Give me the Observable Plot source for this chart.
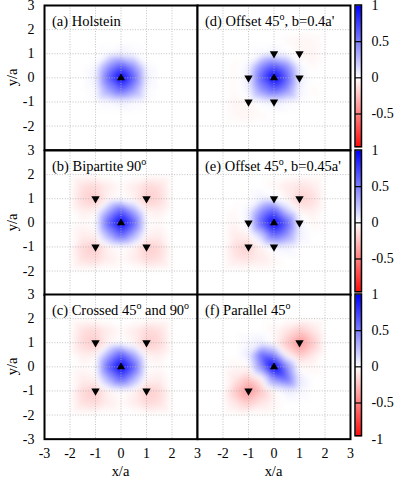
<!DOCTYPE html>
<html><head><meta charset="utf-8">
<script src="https://cdn.jsdelivr.net/npm/d3@7"></script>
<script src="https://cdn.jsdelivr.net/npm/@observablehq/plot@0.6"></script>
<style>
body{margin:0;background:#fff}
#chart{position:relative;width:399px;height:478px;overflow:hidden;background:#fff}
#chart svg{position:absolute;overflow:visible;background:transparent !important;font-family:'Liberation Serif','Times New Roman',serif !important;font-size:14px !important}
#chart svg text{font-family:'Liberation Serif','Times New Roman',serif !important}
</style></head><body><div id="chart"></div>
<script>
// sample grid (x across, y rows top->bottom)
const gridX = [-2, -1.5, -1, -0.5, 0, 0.5, 1, 1.5, 2];
const gridY = [2, 1.5, 1, 0.5, 0, -0.5, -1, -1.5, -2];

const valuesA = [
  [0,0,0,0,0,0,0,0,0],
  [0,0,0,0,0,0,0,0,0],
  [0,0,0,.02,.05,.02,0,0,0],
  [0,0,.02,.38,.6,.38,.02,0,0],
  [0,0,.05,.6,1,.6,.05,0,0],
  [0,0,.02,.38,.6,.38,.02,0,0],
  [0,0,0,.02,.05,.02,0,0,0],
  [0,0,0,0,0,0,0,0,0],
  [0,0,0,0,0,0,0,0,0]
];
const valuesB = [
  [0,0,0,0,0,0,0,0,0],
  [0,-.12,-.15,-.07,-.02,-.07,-.15,-.12,0],
  [0,-.15,-.2,-.05,0,-.05,-.2,-.15,0],
  [0,-.07,-.05,.32,.62,.32,-.05,-.07,0],
  [0,-.02,0,.62,1,.62,0,-.02,0],
  [0,-.07,-.05,.32,.62,.32,-.05,-.07,0],
  [0,-.15,-.2,-.05,0,-.05,-.2,-.15,0],
  [0,-.12,-.15,-.07,-.02,-.07,-.15,-.12,0],
  [0,0,0,0,0,0,0,0,0]
];
const valuesC = [
  [0,0,0,0,0,0,0,0,0],
  [0,-.12,-.15,-.07,-.02,-.07,-.15,-.12,0],
  [0,-.15,-.2,-.05,0,-.05,-.2,-.15,0],
  [0,-.07,-.05,.32,.62,.32,-.05,-.07,0],
  [0,-.02,0,.62,1,.62,0,-.02,0],
  [0,-.07,-.05,.32,.62,.32,-.05,-.07,0],
  [0,-.15,-.2,-.05,0,-.05,-.2,-.15,0],
  [0,-.12,-.15,-.07,-.02,-.07,-.15,-.12,0],
  [0,0,0,0,0,0,0,0,0]
];
const valuesD = [
  [0,0,0,0,0,0,0,0,0],
  [0,0,0,0,0,-.02,-.04,-.03,0],
  [0,0,0,.02,.05,.02,-.04,-.04,0],
  [0,-.02,.04,.42,.62,.42,.04,-.02,0],
  [0,-.02,.06,.62,1,.62,.06,0,0],
  [0,-.02,.04,.42,.62,.42,.04,-.02,0],
  [0,-.04,-.04,.02,.05,.02,0,0,0],
  [0,-.03,-.04,-.02,0,0,0,0,0],
  [0,0,0,0,0,0,0,0,0]
];
const valuesE = [
  [0,0,0,0,0,0,0,0,0],
  [0,0,0,0,-.03,-.08,-.11,-.08,0],
  [0,0,0,.05,.04,-.05,-.18,-.13,0],
  [0,-.02,.05,.42,.62,.2,-.05,-.07,0],
  [0,-.04,.04,.62,1,.62,.04,-.03,0],
  [0,-.08,-.05,.2,.62,.42,.05,0,0],
  [0,-.13,-.18,-.05,.04,.05,0,0,0],
  [0,-.09,-.11,-.08,-.03,0,0,0,0],
  [0,0,0,0,0,0,0,0,0]
];
const valuesF = [
  [0,0,0,0,0,0,0,0,0],
  [0,0,0,0,-.03,-.1,-.2,-.1,0],
  [0,0,.03,.06,-.03,-.22,-.42,-.22,0],
  [0,0,.08,.58,.45,-.05,-.22,-.1,0],
  [0,-.03,-.03,.45,1,.45,-.03,-.03,0],
  [0,-.1,-.22,-.05,.45,.58,.08,0,0],
  [0,-.22,-.42,-.22,-.03,.06,.03,0,0],
  [0,-.1,-.2,-.1,-.03,0,0,0,0],
  [0,0,0,0,0,0,0,0,0]
];

const titles = ["(a) Holstein", "(b) Bipartite 90^o", "(c) Crossed 45^o and 90^o",
                "(d) Offset 45^o, b=0.4a'", "(e) Offset 45^o, b=0.45a'", "(f) Parallel 45^o"];
const upSites = [[0, 0]];
const downA = [];
const downB = [[-1, 1], [1, 1], [-1, -1], [1, -1]];
const downC = [[-1, 1], [1, 1], [-1, -1], [1, -1]];
const downD = [[0, 1], [1, 1], [-1, 0], [1, 0], [-1, -1], [0, -1]];
const downE = [[0, 1], [1, 1], [-1, 0], [1, 0], [-1, -1], [0, -1]];
const downF = [[1, 1], [-1, -1]];

const gridTicks = [-2, -1, 0, 1, 2];
const xTicksLeft = [-3, -2, -1, 0, 1, 2, 3];
const xTicksRight = [-2, -1, 0, 1, 2, 3];
const yTicks = [3, 2, 1, 0, -1, -2];
const yTicksLast = [3, 2, 1, 0, -1, -2, -3];
const cbTicks = [1, 0.5, 0, -0.5];
const cbTicksLast = [1, 0.5, 0, -0.5, -1];
const cbRules = [0.5, 0, -0.5];

const panels = [
  {values: valuesA, down: downA}, {values: valuesB, down: downB}, {values: valuesC, down: downC},
  {values: valuesD, down: downD}, {values: valuesE, down: downE}, {values: valuesF, down: downF}
];

const FONT = "'Liberation Serif','Times New Roman',serif";
const colX = [44, 197];
const PW = 153, PH = 144.67;
const rowY = [5, 149.67, 294.33];
const ML = 40, MR = 4, MT = 4, MB = 40;
const colorScale = {type: "linear", domain: [-1, 0, 1], range: ["#ff0000", "#ffffff", "#0000ff"], interpolate: "rgb"};
const style = {background: "transparent", overflow: "visible", fontFamily: FONT, fontSize: "14px", color: "black"};
const chart = document.getElementById("chart");

function addTitle(svg, text, x, y) {
  const t = d3.select(svg).append("text").attr("x", x).attr("y", y).attr("text-anchor", "start")
    .attr("font-family", FONT).attr("font-size", 14.5).attr("fill", "black");
  const parts = text.split("^o");
  parts.forEach((p, k) => {
    if (k > 0) {
      t.append("tspan").attr("dy", -5.5).attr("font-size", 10).text("o");
      t.append("tspan").attr("dy", 5.5).text(p);
    } else t.append("tspan").text(p);
  });
}

panels.forEach((p, i) => {
  const col = Math.floor(i / 3), row = i % 3;
  const pts = [];
  gridY.forEach((y, r) => gridX.forEach((x, c) => pts.push({x, y, v: p.values[r][c]})));
  const marks = [
    Plot.raster(pts, {x: "x", y: "y", fill: "v", interpolate: "barycentric", x1: -3, x2: 3, y1: -3, y2: 3, blur: 2}),
    Plot.ruleX(gridTicks, {stroke: "#b4b4b4", strokeWidth: 0.8, strokeDasharray: "1,1.6"}),
    Plot.ruleY(gridTicks, {stroke: "#b4b4b4", strokeWidth: 0.8, strokeDasharray: "1,1.6"}),
    Plot.dot(upSites, {x: d => d[0], y: d => d[1], symbol: "triangle", r: 3, fill: "black", stroke: null}),
    Plot.dot(p.down, {x: d => d[0], y: d => d[1], symbol: "triangle", r: 3.1, fill: "black", stroke: null, rotate: 180}),
    Plot.frame({stroke: "black", strokeWidth: 2})
  ];
  if (col === 0) marks.push(Plot.axisY(row === 2 ? yTicksLast : yTicks, {tickSize: 0, tickPadding: 10, tickFormat: d => String(d), label: null}));
  if (row === 2) marks.push(Plot.axisX(col === 0 ? xTicksLeft : xTicksRight, {tickSize: 0, tickPadding: 9, tickFormat: d => String(d), label: null}));
  const svg = Plot.plot({
    width: ML + PW + MR, height: MT + PH + MB,
    marginLeft: ML, marginRight: MR, marginTop: MT, marginBottom: MB,
    x: {domain: [-3, 3], axis: null}, y: {domain: [-3, 3], axis: null},
    color: colorScale, style, marks
  });
  svg.style.left = (colX[col] - ML) + "px";
  svg.style.top = (rowY[row] - MT) + "px";
  addTitle(svg, titles[i], ML + 8, MT + 21);
  if (col === 0) {
    d3.select(svg).append("text").attr("transform", `translate(${ML - 32},${MT + PH / 2}) rotate(-90)`)
      .attr("text-anchor", "middle").attr("dominant-baseline", "central")
      .attr("font-family", FONT).attr("font-size", 14.5).attr("fill", "black").text("y/a");
  }
  if (row === 2) {
    d3.select(svg).append("text").attr("x", ML + PW / 2).attr("y", MT + PH + 32)
      .attr("text-anchor", "middle").attr("dominant-baseline", "central")
      .attr("font-family", FONT).attr("font-size", 14.5).attr("fill", "black").text("x/a");
  }
  chart.appendChild(svg);
});

const CBX = 355, CBW = 6.5;
[0, 1, 2].forEach(row => {
  const svg = Plot.plot({
    width: 2 + CBW + 45, height: MT + PH + MB,
    marginLeft: 2, marginRight: 45, marginTop: MT, marginBottom: MB,
    x: {domain: [0, 1], axis: null}, y: {domain: [-1, 1], axis: null},
    color: colorScale, style,
    marks: [
      Plot.raster({fill: (x, y) => y, x1: 0, x2: 1, y1: -0.96, y2: 1}),
      Plot.ruleY(cbRules, {x1: 0, x2: 1, stroke: "black", strokeWidth: 1.2}),
      Plot.rect([0], {x1: 0, x2: 1, y1: -0.96, y2: 1, stroke: "black", strokeWidth: 1.5, fill: "none"}),
      Plot.axisY(row === 2 ? cbTicksLast : cbTicks, {anchor: "right", tickSize: 0, tickPadding: 9.5, tickFormat: d => String(d), label: null})
    ]
  });
  svg.style.left = (CBX - 2) + "px";
  svg.style.top = (rowY[row] - MT) + "px";
  chart.appendChild(svg);
});
</script></body></html>
